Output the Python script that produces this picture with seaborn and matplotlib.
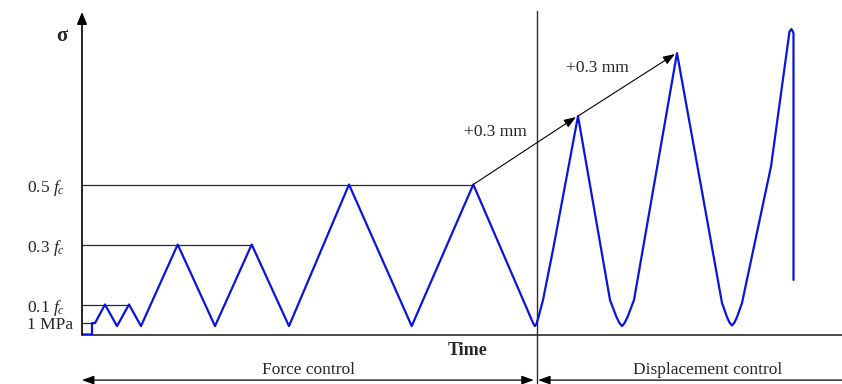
import numpy as np
import pandas as pd
import matplotlib
matplotlib.use("Agg")
import matplotlib.pyplot as plt
import seaborn as sns

# ---- data (time in arbitrary units, stress in units of f_c) ----
time = [0, 10, 10, 13, 23, 35, 47, 59, 95.7, 133, 169.7, 207, 267, 329.7, 391.3, 451.5, 453,
        454.5, 456.5, 461, 471, 496, 528, 534.5, 537.5, 540, 542.5, 545.5, 552, 595,
        621, 640, 645, 647.5, 650, 652.5, 655, 660, 689, 707.5, 709.5, 711.5, 711.5]
stress = [0, 0, 0.038, 0.038, 0.1, 0.028, 0.1, 0.028, 0.3, 0.028, 0.3, 0.028, 0.5, 0.028, 0.5, 0.035, 0.028,
          0.036, 0.058, 0.115, 0.282, 0.728, 0.115, 0.058, 0.038, 0.028, 0.038, 0.058, 0.115, 0.938,
          0.458, 0.105, 0.058, 0.04, 0.03, 0.04, 0.058, 0.105, 0.56, 1.01, 1.018, 1.005, 0.182]

level_values = [0.038, 0.1, 0.3, 0.5]
level_ends = [10, 47, 169.7, 391.3]
level_labels = ["1 MPa", r"0.1 $f_c$", r"0.3 $f_c$", r"0.5 $f_c$"]

arrow_pts_t = [391.3, 496, 595]
arrow_pts_s = [0.5, 0.728, 0.938]
arrow_text = ["+0.3 mm", "+0.3 mm"]

switch_time = 454.7
phase_labels = ["Force control", "Displacement control"]

df = pd.DataFrame({"time": time, "stress": stress})

sns.set_theme(style="white")
plt.rcParams["font.family"] = ["Liberation Serif", "DejaVu Serif"]
plt.rcParams["mathtext.fontset"] = "custom"
plt.rcParams["mathtext.rm"] = "Liberation Serif"
plt.rcParams["mathtext.it"] = "Liberation Serif:italic"

W, H = 842, 384
fig = plt.figure(figsize=(W / 100, H / 100), dpi=100)
x0, y0 = 82, 334.5
ax = fig.add_axes([x0 / W, (H - y0) / H, (W - x0) / W, 1.1 * 300 / H])
ax.set_xlim(0, 760)
ax.set_ylim(0, 1.1)

ink = "#2a2a2a"
blue = "#0a14dc"

# level lines
ax.hlines(level_values, 0, level_ends, color=ink, lw=0.9, zorder=1)

sns.lineplot(data=df, x="time", y="stress", sort=False, estimator=None,
             color=blue, lw=1.6, ax=ax, zorder=3)
ax.lines[-1].set_solid_joinstyle("round")

# spines
for s in ["top", "right", "left"]:
    ax.spines[s].set_visible(False)
ax.spines["bottom"].set_color(ink)
ax.spines["bottom"].set_linewidth(1.2)

# y axis with arrow
ax.annotate("", xy=(0, 1.075), xytext=(0, 0), xycoords="data",
            arrowprops=dict(arrowstyle="-|>,head_length=0.6,head_width=0.25", color="black", lw=1.2,
                            shrinkA=0, shrinkB=0), annotation_clip=False)

# ticks
ax.set_xticks([])
ax.set_yticks(level_values)
ax.set_yticklabels(level_labels, fontsize=12.5)
ax.tick_params(axis="y", length=0, pad=(82 - 27) * 0.72)
for lab in ax.get_yticklabels():
    lab.set_horizontalalignment("left")
ax.set_xlabel("")
ax.set_ylabel("")

ax.text(-20, 0.995, "σ", fontsize=15, fontweight="bold", ha="center", va="center")
ax.text(386, -0.052, "Time", fontsize=13, fontweight="bold", ha="center", va="center", clip_on=False)

# displacement increments arrows
for i in range(2):
    ax.annotate("", xy=(arrow_pts_t[i + 1] - 2, arrow_pts_s[i + 1] - 0.003),
                xytext=(arrow_pts_t[i], arrow_pts_s[i]),
                arrowprops=dict(arrowstyle="-|>,head_length=0.6,head_width=0.22", color="black",
                                lw=0.8, shrinkA=0, shrinkB=0))
ax.text(413, 0.675, arrow_text[0], fontsize=12.5, ha="center", va="center")
ax.text(515, 0.888, arrow_text[1], fontsize=12.5, ha="center", va="center")

# vertical divider
ax.plot([switch_time, switch_time], [-0.165, 1.08], color=ink, lw=1.0, clip_on=False, zorder=2)

# bottom phase arrows
yb = -0.152
ax.annotate("", xy=(0, yb), xytext=(switch_time - 3, yb),
            arrowprops=dict(arrowstyle="<|-|>,head_length=0.6,head_width=0.22", color="black",
                            lw=0.9, shrinkA=0, shrinkB=0), annotation_clip=False)
ax.annotate("", xy=(switch_time + 1.5, yb), xytext=(760, yb),
            arrowprops=dict(arrowstyle="-|>,head_length=0.6,head_width=0.22", color="black",
                            lw=0.9, shrinkA=0, shrinkB=0), annotation_clip=False)
ax.text(226, -0.118, phase_labels[0], fontsize=12.5, ha="center", va="center", clip_on=False)
ax.text(626, -0.118, phase_labels[1], fontsize=12.5, ha="center", va="center", clip_on=False)

fig.savefig("out.png", dpi=100)
